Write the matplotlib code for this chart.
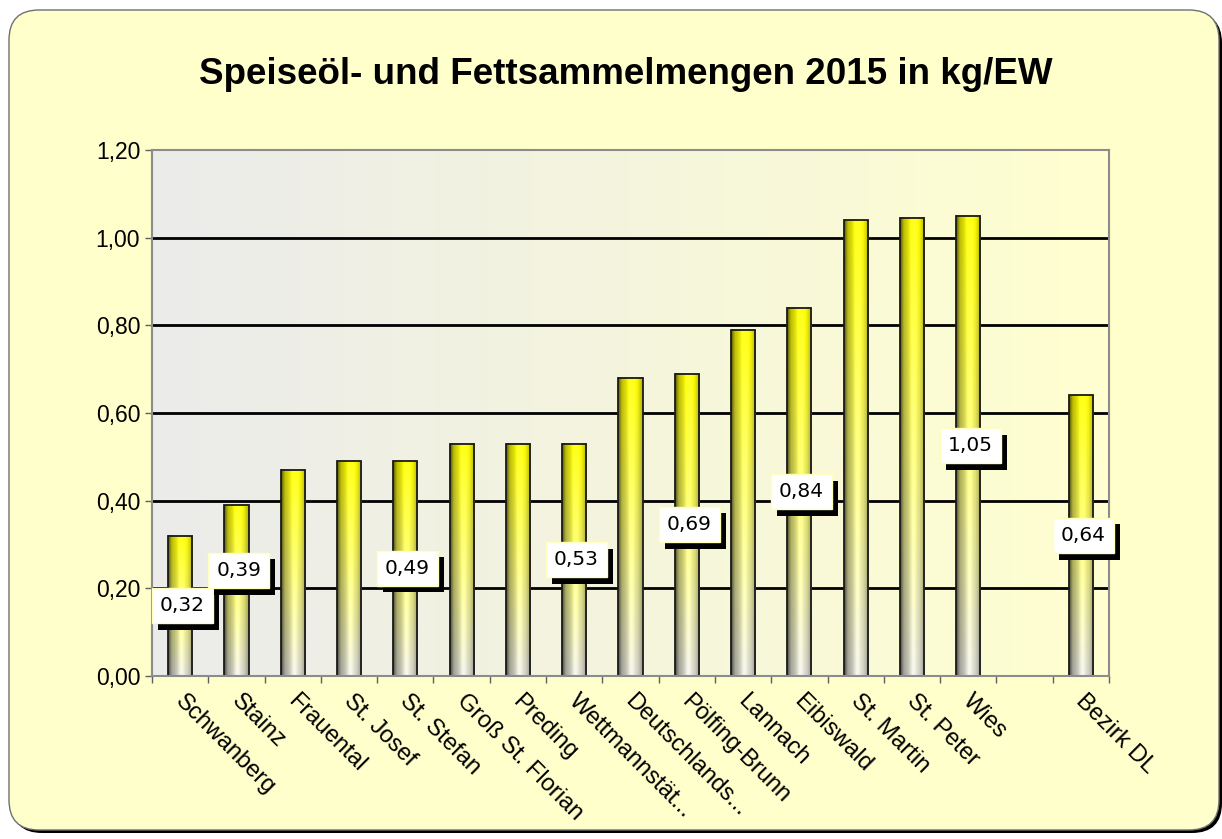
import numpy as np
import matplotlib
matplotlib.use("Agg")
import matplotlib.pyplot as plt
from matplotlib.patches import FancyBboxPatch, Rectangle
import matplotlib.patheffects as pe

# Daten
gemeinden = ["Schwanberg", "Stainz", "Frauental", "St. Josef", "St. Stefan",
             "Groß St. Florian", "Preding", "Wettmannstät...", "Deutschlands...",
             "Pölfing-Brunn", "Lannach", "Eibiswald", "St. Martin", "St. Peter",
             "Wies", "", "Bezirk DL"]
werte = [0.32, 0.39, 0.47, 0.49, 0.49, 0.53, 0.53, 0.53, 0.68,
         0.69, 0.79, 0.84, 1.04, 1.045, 1.05, np.nan, 0.64]
beschriftet = [0, 1, 4, 7, 9, 11, 14, 16]
y_ticks = [0.0, 0.2, 0.4, 0.6, 0.8, 1.0, 1.2]

plt.rcParams['font.family'] = ['Liberation Sans', 'DejaVu Sans']

fig = plt.figure(figsize=(12.22, 8.39), dpi=100)
fig.patch.set_facecolor('white')

# Rahmen mit runden Ecken und Schatten
schatten = FancyBboxPatch((0.12, 0.06), 12.10, 8.20,
                          boxstyle="round,pad=0,rounding_size=0.30",
                          transform=fig.dpi_scale_trans, facecolor='black',
                          edgecolor='none', zorder=0)
rahmen = FancyBboxPatch((0.09, 0.09), 12.10, 8.20,
                        boxstyle="round,pad=0,rounding_size=0.30",
                        transform=fig.dpi_scale_trans, facecolor='#FFFFCC',
                        edgecolor='#707070', linewidth=1.0, zorder=0)
fig.add_artist(schatten)
fig.add_artist(rahmen)

ax = fig.add_axes([0.1244, 0.1943, 0.7831, 0.6269])
ax.set_facecolor('none')

# Hintergrund der Zeichenfläche: Verlauf grau -> hellgelb
links = np.array([235, 235, 235]) / 255
rechts = np.array([255, 255, 208]) / 255
u = np.linspace(0, 1, 256)[None, :, None]
hg = links * (1 - u) + rechts * u
ax.imshow(hg, extent=(0, 1, 0, 1), transform=ax.transAxes, aspect='auto', zorder=0)

# Gitterlinien
for yt in y_ticks[1:-1]:
    ax.axhline(yt, color='black', linewidth=2.0, zorder=1)

# Balken mit Verlauf
breite = 0.43
gelb = np.array([255, 255, 0]) / 255
grau = np.array([218, 218, 210]) / 255
hu = np.linspace(0, 1, 40)
schatt = np.interp(hu, [0, 0.15, 0.5, 0.8, 1.0], [0.35, 0.75, 1.0, 0.95, 0.7])
for i, v in enumerate(werte):
    if np.isnan(v):
        continue
    t = np.linspace(0, 1, 120)[:, None, None]
    farbe = gelb * (1 - t) + grau * t
    farbe = farbe * schatt[None, :, None]
    # Glanzlicht in der Mitte
    farbe = np.clip(farbe + 0.12 * np.exp(-((hu - 0.55) / 0.15) ** 2)[None, :, None], 0, 1)
    ax.imshow(farbe, extent=(i - breite / 2, i + breite / 2, 0, v),
              aspect='auto', zorder=3)
    ax.add_patch(Rectangle((i - breite / 2, 0), breite, v, fill=False,
                           edgecolor='#1a1a1a', linewidth=1.3, zorder=4))

ax.set_xlim(-0.5, len(gemeinden) - 0.5)
ax.set_ylim(0, 1.2)

# Achsen
ax.set_yticks(y_ticks)
ax.set_yticklabels([f"{y:.2f}".replace('.', ',') for y in y_ticks], fontsize=16.5)
ax.set_xticks(np.arange(-0.5, len(gemeinden), 1.0))
ax.set_xticklabels([])
ax.tick_params(axis='both', direction='out', length=5, width=1.0, color='#606060')
for s in ax.spines.values():
    s.set_color('#8c8c8c')
    s.set_linewidth(1.5)
    s.set_zorder(5)

for i, name in enumerate(gemeinden):
    ax.text(i - 0.03, -0.05, name, rotation=-45, rotation_mode='anchor',
            ha='left', va='center', fontsize=17)

# Datenbeschriftungen
for i in beschriftet:
    v = werte[i]
    yl = v / 2
    if i == 1:
        yl = v / 2 + 0.045
    txt = ax.text(i + 0.04, yl, f"{v:.2f}".replace('.', ','), ha='center', va='center',
                  fontsize=14.5, family='DejaVu Sans', zorder=6,
                  bbox=dict(boxstyle='square,pad=0.4', facecolor='white',
                            edgecolor='#FFFFC0', linewidth=1.0))
    txt.get_bbox_patch().set_path_effects(
        [pe.SimplePatchShadow(offset=(4.5, -4.5), shadow_rgbFace='black', alpha=1.0),
         pe.Normal()])

fig.text(0.512, 0.911, "Speiseöl- und Fettsammelmengen 2015 in kg/EW",
         ha='center', va='center', fontsize=26.5, fontweight='bold')

fig.savefig('out.png', dpi=100)
